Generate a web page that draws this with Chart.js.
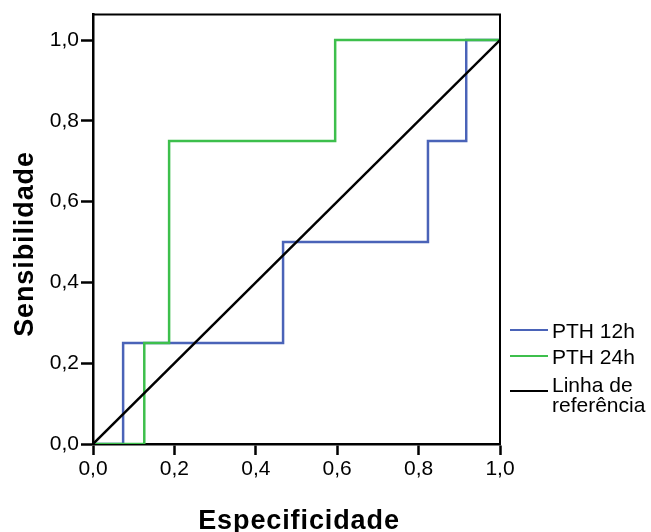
<!DOCTYPE html>
<html>
<head>
<meta charset="utf-8">
<script src="https://cdn.jsdelivr.net/npm/chart.js@4"></script>
<style>
  body { margin: 0; background: #fff; }
  #wrap { position: relative; width: 651px; height: 532px; font-family: "Liberation Sans", Arial, sans-serif; }
  .leg { position: absolute; left: 510px; font-size: 21px; color: #000; }
  .leg span { position: absolute; left: 0; width: 38px; height: 2px; }
  .leg div { position: absolute; left: 42px; white-space: nowrap; line-height: 20px; }
</style>
</head>
<body>
<div id="wrap">
  <canvas id="rocChart" width="651" height="532"></canvas>
  <div class="leg" style="top:329px"><span style="background:#4a63b8"></span><div style="top:-8px">PTH 12h</div></div>
  <div class="leg" style="top:355px"><span style="background:#3dbf4c"></span><div style="top:-8px">PTH 24h</div></div>
  <div class="leg" style="top:390px"><span style="background:#000"></span><div style="top:-15px">Linha de<br>referência</div></div>
</div>
<script>
// 1 - especificidade (x) e sensibilidade (y) nos cantos da curva ROC
const pth12X = [0, 0.074, 0.467, 0.823, 0.917, 1];
const pth12Y = [0, 0.25, 0.5, 0.75, 1, 1];
const pth24X = [0, 0.126, 0.187, 0.595, 1];
const pth24Y = [0, 0.25, 0.75, 1, 1];
const refX = [0, 1];
const refY = [0, 1];
const tickValues = [0, 0.2, 0.4, 0.6, 0.8, 1.0];

function toPoints(xs, ys) {
  return xs.map(function (x, i) { return { x: x, y: ys[i] }; });
}

function fmt(v) {
  return v.toFixed(1).replace('.', ',');
}

// moldura de cima/direita e titulos dos eixos
const framePlugin = {
  id: 'frame',
  afterDraw: function (chart) {
    const c = chart.ctx;
    const a = chart.chartArea;
    c.save();
    c.strokeStyle = '#000';
    c.lineWidth = 2;
    c.beginPath();
    c.moveTo(a.left, a.top);
    c.lineTo(a.right, a.top);
    c.lineTo(a.right, a.bottom);
    c.stroke();

    c.fillStyle = '#000';
    c.font = 'bold 27px "Liberation Sans", Arial, sans-serif';
    c.letterSpacing = '0.9px';
    c.textAlign = 'center';
    c.textBaseline = 'alphabetic';
    c.fillText('Especificidade', 299, 529);
    c.translate(33, 244);
    c.rotate(-Math.PI / 2);
    c.fillText('Sensibilidade', 0, 0);
    c.restore();
  }
};

const ctx = document.getElementById('rocChart');

new Chart(ctx, {
  type: 'scatter',
  data: {
    datasets: [{
      label: 'PTH 12h',
      data: toPoints(pth12X, pth12Y),
      borderColor: '#4a63b8',
      borderWidth: 2.5,
      showLine: true,
      stepped: 'before',
      pointRadius: 0,
      order: 2
    }, {
      label: 'PTH 24h',
      data: toPoints(pth24X, pth24Y),
      borderColor: '#3dbf4c',
      borderWidth: 2.5,
      showLine: true,
      stepped: 'before',
      pointRadius: 0,
      order: 1
    }, {
      label: 'Linha de referência',
      data: toPoints(refX, refY),
      borderColor: '#000',
      borderWidth: 2.5,
      showLine: true,
      pointRadius: 0,
      order: 0
    }]
  },
  options: {
    responsive: false,
    animation: false,
    layout: { padding: { top: 13, right: 151, left: 0, bottom: 0 } },
    plugins: { legend: { display: false }, tooltip: { enabled: false } },
    scales: {
      x: {
        type: 'linear',
        min: 0,
        max: 1,
        afterFit: function (s) { s.height = 88; },
        afterBuildTicks: function (s) { s.ticks = tickValues.map(function (v) { return { value: v }; }); },
        ticks: { callback: fmt, color: '#000', padding: 2, maxRotation: 0,
          font: { family: '"Liberation Sans", Arial, sans-serif', size: 21 } },
        grid: { drawOnChartArea: false, tickLength: 11, tickColor: '#000', tickWidth: 2.5 },
        border: { color: '#000', width: 2.5 }
      },
      y: {
        type: 'linear',
        min: 0,
        max: 1.063,
        afterFit: function (s) { s.width = 93; },
        afterBuildTicks: function (s) { s.ticks = tickValues.map(function (v) { return { value: v }; }); },
        ticks: { callback: fmt, color: '#000', padding: 2,
          font: { family: '"Liberation Sans", Arial, sans-serif', size: 21 } },
        grid: { drawOnChartArea: false, tickLength: 12, tickColor: '#000', tickWidth: 2.5 },
        border: { color: '#000', width: 2.5 }
      }
    }
  },
  plugins: [framePlugin]
});
</script>
</body>
</html>
